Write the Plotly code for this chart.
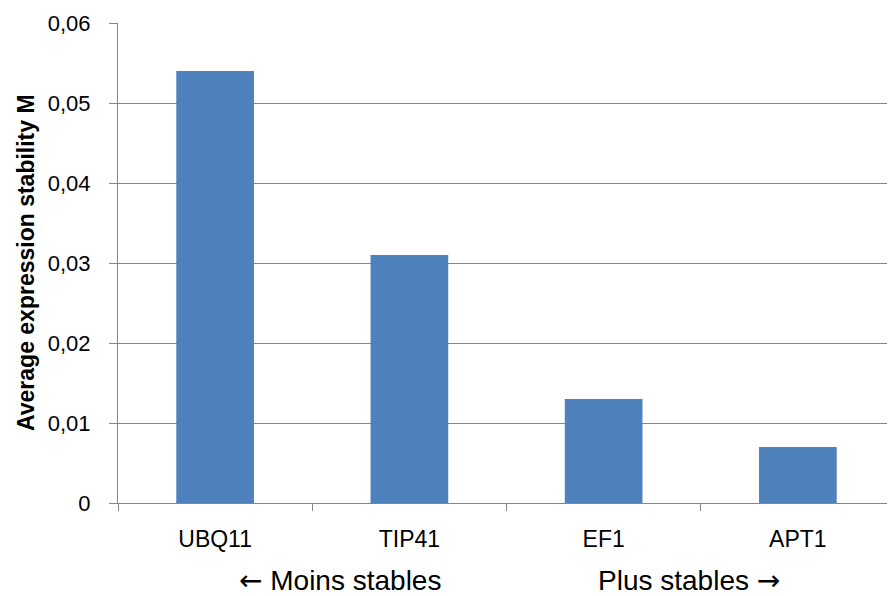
import plotly.graph_objects as go

categories = ["UBQ11", "TIP41", "EF1", "APT1"]
values = [0.054, 0.031, 0.013, 0.007]
y_tick_vals = [0, 0.01, 0.02, 0.03, 0.04, 0.05, 0.06]
y_tick_text = ["0", "0,01", "0,02", "0,03", "0,04", "0,05", "0,06"]
y_title = "Average expression stability M"
left_note = "\u2190 Moins stables"
right_note = "Plus stables \u2192"

font_family = "Liberation Sans, Arial, sans-serif"
grid_color = "#868686"

# page body has an 8px margin; compensate so plot area lands at (118..895, 23..503)
W, H = 887, 588
L, R, T, B = 110, 0, 15, 93
plot_w = W - L - R
plot_h = H - T - B

fig = go.Figure(go.Bar(
    x=categories, y=values,
    marker=dict(color="#4F81BD", line=dict(width=0)),
    width=0.4,
))

fig.update_layout(
    width=W, height=H,
    margin=dict(l=L, r=R, t=T, b=B),
    paper_bgcolor="white", plot_bgcolor="white",
    showlegend=False,
    font=dict(family=font_family, color="#000000"),
)

fig.update_xaxes(
    range=[-0.5, 3.5],
    showline=True, linecolor=grid_color, linewidth=1,
    ticks="", showgrid=False,
    tickfont=dict(size=23, family=font_family),
    ticklabelstandoff=15,
    minor=dict(ticks="outside", ticklen=7, tickcolor=grid_color, tickwidth=1,
               tickvals=[-0.5, 0.5, 1.5, 2.5, 3.5], showgrid=False),
)

fig.update_yaxes(
    range=[0, 0.06],
    tickvals=y_tick_vals, ticktext=y_tick_text,
    showgrid=True, gridcolor=grid_color, gridwidth=1,
    showline=True, linecolor=grid_color, linewidth=1,
    ticks="outside", ticklen=8, tickcolor=grid_color,
    tickfont=dict(size=22, family=font_family),
    ticklabelstandoff=14,
    zeroline=False,
)

# y-axis title
fig.add_annotation(
    text="<b>" + y_title + "</b>", xref="paper", yref="paper",
    x=(26 - 118) / plot_w, y=0.5, textangle=-90,
    showarrow=False, font=dict(size=23, family=font_family),
    xanchor="center", yanchor="middle",
)

arrow_style = "font-family:DejaVu Sans"
fig.add_annotation(
    text="<span style='" + arrow_style + "'>" + left_note[0] + "</span>" + left_note[1:],
    xref="paper", yref="paper",
    x=(340 - 118) / plot_w, y=-(580 - 503) / plot_h,
    showarrow=False, font=dict(size=28, family=font_family),
    xanchor="center", yanchor="middle",
)
fig.add_annotation(
    text=right_note[:-1] + "<span style='" + arrow_style + "'>" + right_note[-1] + "</span>",
    xref="paper", yref="paper",
    x=(689 - 118) / plot_w, y=-(580 - 503) / plot_h,
    showarrow=False, font=dict(size=28, family=font_family),
    xanchor="center", yanchor="middle",
)

fig.write_html("out.html")
